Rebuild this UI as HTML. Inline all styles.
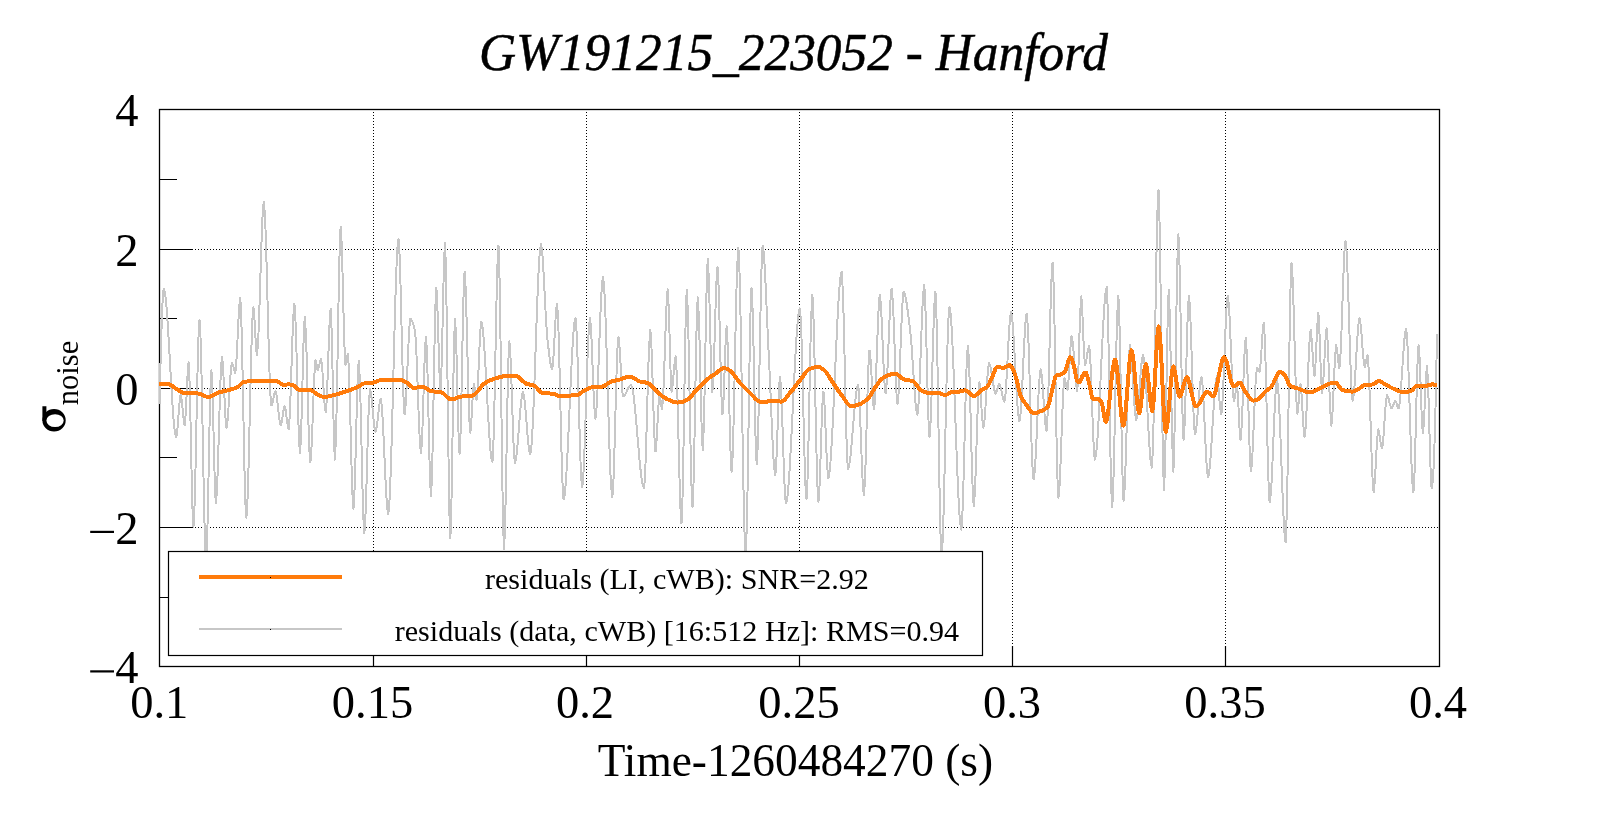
<!DOCTYPE html><html><head><meta charset="utf-8"><style>html,body{margin:0;padding:0;background:#fff;overflow:hidden;}svg{display:block;will-change:transform;}text{font-family:"Liberation Serif",serif;fill:#000;}</style></head><body><svg width="1599" height="813" viewBox="0 0 1599 813"><rect x="0" y="0" width="1599" height="813" fill="#fff"/><path d="M373.5 109V646 M586.5 109V646 M799.5 109V646 M1012.5 109V646 M1225.5 109V646 M159 249.5H1439 M159 388.5H1439 M159 527.5H1439" stroke="#000" stroke-width="1" stroke-dasharray="1 2" fill="none"/><path d="M373.5 666V646 M586.5 666V646 M799.5 666V646 M1012.5 666V646 M1225.5 666V646 M159 179.5H177 M159 318.5H177 M159 457.5H177 M159 597.5H177 M159 249.5H193 M159 388.5H193 M159 527.5H193" stroke="#000" stroke-width="1.2" fill="none"/><rect x="159.5" y="109.5" width="1280" height="557" fill="none" stroke="#000" stroke-width="1.3"/><path d="M159.8 404.0 160.2 376.0 161.0 344.9 162.0 313.6 163.0 293.8 163.8 288.5 165.0 292.4 166.0 300.9 167.0 313.1 168.0 328.1 169.0 345.0 170.0 362.8 171.0 380.7 172.0 397.6 173.0 412.6 174.0 424.8 175.0 433.3 176.2 437.2 177.0 433.7 178.0 422.3 179.0 408.4 180.0 397.6 180.7 394.8 181.0 395.3 182.0 402.4 183.0 413.5 184.0 422.8 184.7 425.3 185.0 424.2 186.0 408.9 187.0 385.2 188.0 366.0 188.6 362.0 189.0 365.2 190.0 395.9 191.0 444.5 192.0 493.1 193.0 523.8 193.4 527.0 194.0 521.4 195.0 491.7 196.0 446.1 197.0 395.6 198.0 351.1 199.0 323.6 199.5 319.7 200.0 323.6 201.0 351.3 202.0 397.0 203.0 450.8 204.0 502.5 205.0 542.2 206.1 560.0 207.0 545.5 208.0 504.4 209.0 451.9 210.0 403.2 211.0 373.6 211.4 370.5 212.0 377.0 213.0 408.9 214.0 452.3 215.0 489.5 215.9 503.3 217.0 490.7 218.0 463.1 219.0 428.2 220.0 393.6 221.0 367.2 222.0 356.7 223.0 365.7 224.0 386.4 225.0 409.4 226.0 425.5 226.5 427.9 227.0 426.4 228.0 416.0 229.0 399.6 230.0 382.2 231.0 368.2 232.0 362.5 233.0 364.9 234.0 369.7 235.2 373.0 236.0 367.9 237.0 350.9 238.0 329.0 239.0 309.1 240.2 298.3 241.0 308.6 242.0 344.4 243.0 394.6 244.0 447.8 245.0 492.2 246.0 516.4 246.3 517.9 247.0 512.2 248.0 487.4 249.0 449.6 250.0 405.8 251.0 363.0 252.0 328.4 253.0 308.9 253.4 307.0 254.0 310.7 255.0 327.9 256.0 347.1 256.9 355.0 258.0 344.6 259.0 321.0 260.0 290.0 261.0 256.9 262.0 227.6 263.0 207.4 263.8 201.7 265.0 215.3 266.0 243.0 267.0 279.6 268.0 319.6 269.0 357.3 270.0 387.2 271.0 403.8 271.4 405.4 272.0 404.6 273.0 400.5 274.0 395.4 275.0 391.6 275.5 391.0 276.0 391.9 277.0 397.9 278.0 407.2 279.0 416.7 280.0 423.6 280.7 425.3 281.0 425.0 282.0 420.6 283.0 413.6 284.0 407.8 284.7 406.2 285.0 406.6 286.0 412.2 287.0 420.8 288.0 427.7 288.6 429.2 289.0 427.5 290.0 410.8 291.0 382.6 292.0 350.4 293.0 322.2 294.0 305.5 294.4 303.8 295.0 308.6 296.0 333.4 297.0 370.4 298.0 409.5 299.0 440.4 300.0 453.0 301.0 437.8 302.0 401.8 303.0 360.0 304.0 327.1 304.8 317.0 306.0 334.7 307.0 368.1 308.0 407.3 309.0 441.8 310.0 461.1 310.3 462.3 311.0 457.4 312.0 437.5 313.0 409.7 314.0 382.3 315.0 363.6 315.6 360.0 316.0 361.0 317.0 367.8 317.7 370.5 318.0 370.2 319.0 366.6 320.0 361.5 321.0 359.0 322.0 365.2 323.0 379.6 324.0 396.2 325.0 408.8 325.7 412.0 326.0 410.9 327.0 394.7 328.0 366.6 329.0 336.5 330.0 314.3 330.7 308.8 331.0 311.0 332.0 343.2 333.0 395.0 334.0 441.9 334.9 459.7 336.0 437.8 337.0 390.3 338.0 331.3 339.0 275.3 340.0 236.4 340.7 227.0 341.0 228.5 342.0 251.9 343.0 291.7 344.0 333.0 345.0 360.8 345.5 365.0 346.0 363.8 347.0 357.5 347.9 354.0 349.0 370.1 350.0 404.4 351.0 446.0 352.0 483.6 353.0 506.3 353.4 508.6 354.0 503.5 355.0 477.4 356.0 439.0 357.0 399.4 358.0 369.9 358.8 361.2 360.0 382.2 361.0 421.7 362.0 468.0 363.0 508.7 364.0 531.5 364.3 533.0 365.0 527.0 366.0 502.2 367.0 466.7 368.0 429.7 369.0 400.7 370.0 389.0 371.0 392.7 372.0 401.9 373.0 413.4 374.0 424.1 375.0 430.9 375.5 431.9 376.0 431.0 377.0 425.2 378.0 416.3 379.0 407.1 380.0 400.4 380.7 398.8 381.0 399.3 382.0 408.0 383.0 424.6 384.0 446.0 385.0 468.9 386.0 490.0 387.0 506.0 388.2 513.9 389.0 509.2 390.0 491.6 391.0 463.9 392.0 429.2 393.0 390.3 394.0 350.4 395.0 312.4 396.0 279.5 397.0 254.5 398.0 240.6 398.5 238.7 399.0 242.0 400.0 265.3 401.0 303.0 402.0 345.7 403.0 384.3 404.0 409.4 404.6 414.2 405.0 412.9 406.0 400.2 407.0 378.8 408.0 354.3 409.0 332.9 410.0 320.2 410.4 318.9 411.0 319.2 412.0 320.6 413.0 323.2 414.0 326.8 415.0 331.0 416.0 343.2 417.0 366.8 418.0 395.7 419.0 423.8 420.0 445.1 421.0 453.6 422.0 441.4 423.0 412.4 424.0 377.8 425.0 348.8 426.0 336.6 427.0 353.2 428.0 392.8 429.0 440.0 430.0 479.6 431.0 496.2 432.0 476.8 433.0 429.6 434.0 371.6 435.0 319.4 436.0 289.9 436.3 288.0 437.0 295.6 438.0 324.6 439.0 360.3 440.0 386.0 440.5 390.0 441.0 385.0 442.0 351.9 443.0 304.3 444.0 261.6 445.0 243.0 446.0 270.6 447.0 337.4 448.0 419.7 449.0 493.6 450.0 535.5 450.3 538.2 451.0 525.1 452.0 472.9 453.0 404.3 454.0 344.5 455.0 319.0 456.0 335.3 457.0 373.2 458.0 416.1 459.0 447.3 459.6 453.6 460.0 450.3 461.0 418.8 462.0 368.2 463.0 315.7 464.0 279.0 464.6 271.8 465.0 274.1 466.0 296.9 467.0 335.1 468.0 377.7 469.0 413.7 470.2 432.7 471.0 426.8 472.0 409.2 473.0 391.0 473.9 383.7 475.0 390.0 476.0 398.4 476.5 400.0 477.0 397.6 478.0 381.9 479.0 358.6 480.0 336.1 481.0 322.9 481.3 322.0 482.0 323.6 483.0 330.8 484.0 342.8 485.0 358.2 486.0 376.0 487.0 394.7 488.0 413.3 489.0 430.5 490.0 445.0 491.0 455.7 492.0 461.3 492.4 461.8 493.0 455.9 494.0 425.0 495.0 377.5 496.0 324.8 497.0 278.4 498.0 249.7 498.5 245.6 499.0 252.7 500.0 301.0 501.0 376.6 502.0 457.7 503.0 522.4 504.0 548.8 505.0 529.4 506.0 482.5 507.0 424.7 508.0 372.7 509.0 343.3 509.3 341.4 510.0 346.6 511.0 368.2 512.0 398.9 513.0 430.5 514.0 454.6 514.9 463.0 516.0 459.4 517.0 451.2 518.0 439.8 519.0 426.8 520.0 414.0 521.0 402.8 522.0 395.0 523.0 392.0 524.0 395.3 525.0 403.8 526.0 415.5 527.0 428.4 528.0 440.5 529.0 449.8 530.2 454.4 531.0 451.1 532.0 438.8 533.0 419.4 534.0 394.7 535.0 366.8 536.0 337.7 537.0 309.4 538.0 283.9 539.0 263.2 540.0 249.4 541.0 244.3 542.0 249.3 543.0 262.4 544.0 280.6 545.0 300.7 546.0 319.7 547.0 334.6 547.4 338.7 548.0 344.0 549.0 352.8 550.0 360.6 551.0 366.4 552.2 369.2 553.0 364.4 554.0 348.5 555.0 328.4 556.0 311.1 557.0 303.8 558.0 315.9 559.0 346.8 560.0 388.3 561.0 432.2 562.0 470.4 563.0 494.7 563.6 499.3 564.0 498.7 565.0 492.4 566.0 480.2 567.0 463.4 568.0 443.3 569.0 421.2 570.0 398.4 571.0 376.2 572.0 355.8 573.0 338.6 574.0 325.9 575.0 318.9 575.5 318.0 576.0 320.8 577.0 340.3 578.0 372.5 579.0 410.4 580.0 446.9 581.0 474.9 582.1 487.4 583.0 481.3 584.0 462.7 585.0 435.7 586.0 404.3 587.0 372.7 588.0 345.1 589.0 325.5 590.0 318.0 591.0 327.4 592.0 350.2 593.0 378.3 594.0 403.5 595.3 418.7 596.0 415.4 597.0 401.0 598.0 378.7 599.0 352.0 600.0 324.8 601.0 300.7 602.0 283.5 603.0 277.0 604.0 284.1 605.0 303.2 606.0 331.0 607.0 364.2 608.0 399.5 609.0 433.7 610.0 463.5 611.0 485.5 612.3 497.2 613.0 491.4 614.0 466.8 615.0 430.8 616.0 391.8 617.0 358.4 618.0 338.9 618.4 336.9 619.0 339.7 620.0 353.5 621.0 372.5 622.0 389.3 623.0 396.5 624.0 396.0 625.0 394.7 626.0 392.9 627.0 390.8 628.0 388.6 629.0 386.8 630.0 385.5 631.0 385.0 632.0 386.7 633.0 391.6 634.0 398.9 635.0 408.3 636.0 419.0 637.0 430.6 638.0 442.4 639.0 454.0 640.0 464.7 641.0 474.1 642.0 481.4 643.0 486.3 644.0 488.0 645.0 477.3 646.0 450.3 647.0 414.6 648.0 377.8 649.0 347.4 650.3 330.0 651.0 336.0 652.0 360.5 653.0 394.3 654.0 427.0 655.0 448.3 655.5 451.5 656.0 449.1 657.0 433.6 658.0 412.9 659.0 397.4 659.5 395.0 660.0 396.5 661.0 404.1 662.0 409.0 663.0 399.6 664.0 376.1 665.0 346.1 666.0 316.7 667.0 295.5 667.8 289.3 669.0 313.6 670.0 352.7 671.0 385.1 671.6 392.0 672.0 391.0 673.0 382.0 674.0 369.0 675.0 358.7 675.6 356.5 676.0 358.7 677.0 380.2 678.0 416.9 679.0 459.0 680.0 496.6 681.0 520.1 681.5 523.5 682.0 517.7 683.0 478.0 684.0 416.7 685.0 352.5 686.0 304.4 686.8 290.0 688.0 314.8 689.0 362.0 690.0 418.4 691.0 469.8 692.0 502.3 692.5 507.0 693.0 501.8 694.0 466.1 695.0 411.0 696.0 353.4 697.0 310.2 697.8 297.3 699.0 319.5 700.0 360.0 701.0 404.9 702.0 439.5 702.8 450.0 704.0 422.3 705.0 371.6 706.0 315.4 707.0 272.1 707.8 259.0 709.0 282.3 710.0 323.3 711.0 365.1 712.3 392.0 713.0 385.8 714.0 360.7 715.0 325.9 716.0 292.2 717.0 270.2 717.5 267.0 718.0 271.1 719.0 298.9 720.0 340.8 721.0 382.6 722.0 410.4 722.5 414.5 723.0 411.0 724.0 388.8 725.0 358.0 726.0 332.8 726.7 326.3 728.0 351.6 729.0 392.4 730.0 435.4 731.0 465.8 731.6 471.8 732.0 469.5 733.0 446.5 734.0 406.1 735.0 357.1 736.0 308.6 737.0 269.6 738.3 247.5 739.0 255.3 740.0 288.9 741.0 340.7 742.0 401.8 743.0 462.8 744.0 514.6 745.0 548.2 745.7 556.0 747.0 521.6 748.0 463.0 749.0 394.5 750.0 332.5 751.0 293.6 751.5 288.0 752.0 292.4 753.0 322.4 754.0 368.7 755.0 417.2 756.0 453.6 756.8 464.4 758.0 440.2 759.0 393.8 760.0 338.1 761.0 286.4 762.0 252.1 762.6 245.6 763.0 246.5 764.0 255.6 765.0 272.2 766.0 293.6 767.0 316.9 768.0 339.5 768.7 353.3 770.0 380.7 771.0 404.9 772.0 429.0 773.0 450.4 774.0 466.4 775.3 475.0 776.0 469.1 777.0 445.8 778.0 415.1 779.0 388.4 780.0 377.0 781.0 386.7 782.0 410.7 783.0 441.8 784.0 472.4 785.0 495.4 785.9 503.3 787.0 499.9 788.0 491.5 789.0 478.9 790.0 462.9 791.0 444.5 792.0 424.5 793.0 403.7 794.0 383.0 795.0 363.2 796.0 345.3 797.0 329.9 798.0 318.1 799.0 310.6 799.9 308.3 801.0 322.4 802.0 354.0 803.0 395.1 804.0 437.8 805.0 474.2 806.0 496.2 806.5 499.3 807.0 495.0 808.0 465.4 809.0 418.2 810.0 365.9 811.0 321.2 812.3 295.0 813.0 302.6 814.0 334.3 815.0 380.8 816.0 431.1 817.0 474.3 818.0 499.4 818.4 502.0 819.0 497.6 820.0 475.3 821.0 443.5 822.0 412.7 823.0 393.6 823.4 391.6 824.0 395.3 825.0 414.1 826.0 440.3 827.0 464.7 828.2 478.2 829.0 476.1 830.0 468.2 831.0 455.2 832.0 438.3 833.0 418.5 834.0 396.6 835.0 373.9 836.0 351.1 837.0 329.4 838.0 309.8 839.0 293.3 840.0 280.8 841.0 273.4 841.7 271.8 843.0 293.5 844.0 331.4 845.0 377.4 846.0 421.9 847.0 455.6 848.0 468.9 849.0 466.6 850.0 460.3 851.0 451.1 852.0 439.8 853.0 427.6 854.0 415.3 855.0 403.9 856.0 394.4 857.0 387.8 858.1 385.0 859.0 392.1 860.0 412.8 861.0 440.2 862.0 467.6 863.0 488.3 863.9 495.4 865.0 480.8 866.0 449.6 867.0 411.4 868.0 376.2 869.0 353.9 869.5 350.6 870.0 352.6 871.0 365.8 872.0 384.9 873.0 402.0 874.0 409.4 875.0 400.4 876.0 378.0 877.0 349.2 878.0 321.2 879.0 300.9 879.8 295.0 881.0 305.9 882.0 326.8 883.0 351.9 884.0 375.1 885.0 390.6 885.6 393.5 886.0 392.2 887.0 379.4 888.0 357.5 889.0 332.0 890.0 308.4 891.0 292.3 891.7 288.5 893.0 303.3 894.0 328.6 895.0 358.1 896.0 384.8 897.0 401.6 897.5 404.0 898.0 401.9 899.0 387.0 900.0 362.9 901.0 335.6 902.0 311.0 903.0 294.9 903.6 291.9 904.0 292.1 905.0 294.6 906.0 299.3 907.0 305.6 908.0 313.1 909.0 321.2 910.2 330.8 911.0 338.6 912.0 351.8 913.0 367.1 914.0 382.8 915.0 397.1 916.0 408.1 917.0 414.1 917.4 414.7 918.0 411.9 919.0 396.6 920.0 372.4 921.0 344.3 922.0 317.2 923.0 296.0 924.2 285.3 925.0 294.6 926.0 325.9 927.0 367.6 928.0 407.4 929.0 433.2 929.5 437.0 930.0 434.1 931.0 413.6 932.0 380.9 933.0 344.4 934.0 312.5 935.0 293.8 935.4 291.9 936.0 299.1 937.0 336.9 938.0 394.9 939.0 459.3 940.0 515.9 941.0 551.0 941.5 556.0 942.0 553.1 943.0 532.5 944.0 497.0 945.0 452.7 946.0 405.7 947.0 362.0 948.0 327.7 949.0 308.9 949.4 307.0 950.0 308.6 951.0 318.0 952.0 334.3 953.0 355.8 954.0 381.1 955.0 408.6 956.0 436.6 957.0 463.6 958.0 487.9 959.0 508.0 960.0 522.4 961.3 529.8 962.0 524.0 963.0 499.5 964.0 462.7 965.0 421.3 966.0 383.0 967.0 355.4 967.9 346.1 969.0 360.7 970.0 392.5 971.0 432.1 972.0 470.4 973.0 498.0 973.8 506.0 975.0 490.9 976.0 462.5 977.0 429.2 978.0 399.9 979.3 382.4 980.0 386.1 981.0 400.1 982.0 416.6 983.3 427.9 984.0 425.3 985.0 414.5 986.0 398.9 987.0 382.6 988.0 369.4 989.1 363.3 990.0 364.8 991.0 369.4 992.0 375.7 993.0 382.5 994.0 388.5 995.0 392.6 995.7 393.5 997.0 390.4 998.0 386.4 999.2 383.7 1000.0 384.8 1001.0 388.6 1002.0 393.6 1003.0 398.3 1004.0 401.2 1004.4 401.5 1005.0 399.4 1006.0 388.3 1007.0 370.9 1008.0 350.8 1009.0 331.9 1010.0 317.8 1011.0 312.3 1012.0 316.5 1013.0 327.6 1014.0 343.4 1015.0 362.0 1016.0 381.1 1017.0 398.6 1018.0 412.3 1019.0 420.2 1019.5 421.3 1020.0 419.8 1021.0 409.2 1022.0 391.4 1023.0 369.7 1024.0 347.7 1025.0 328.8 1026.0 316.5 1026.7 313.6 1028.0 329.0 1029.0 356.6 1030.0 391.1 1031.0 426.6 1032.0 456.9 1033.0 476.0 1033.6 479.5 1034.0 478.5 1035.0 468.3 1036.0 450.2 1037.0 427.8 1038.0 404.9 1039.0 385.1 1040.0 372.2 1040.7 369.2 1042.0 377.1 1043.0 390.5 1044.0 406.2 1045.0 420.4 1046.0 429.3 1046.5 430.6 1047.0 427.4 1048.0 405.2 1049.0 369.1 1050.0 328.3 1051.0 291.4 1052.0 267.4 1052.6 262.8 1053.0 266.0 1054.0 297.3 1055.0 350.3 1056.0 410.5 1057.0 463.5 1058.0 494.8 1058.4 498.0 1059.0 494.8 1060.0 477.6 1061.0 451.3 1062.0 422.2 1063.0 396.5 1064.0 380.7 1064.5 378.4 1065.0 379.3 1066.0 384.2 1067.0 389.1 1067.5 390.0 1068.0 387.8 1069.0 373.6 1070.0 354.3 1071.0 339.2 1071.6 336.1 1072.0 336.9 1073.0 344.7 1074.0 357.7 1075.0 372.2 1076.0 384.5 1077.2 391.0 1078.0 381.2 1079.0 350.8 1080.0 316.8 1081.2 296.4 1082.0 304.2 1083.0 328.0 1084.0 353.2 1085.0 365.0 1086.0 362.2 1087.0 355.9 1088.0 349.5 1089.1 346.1 1090.0 353.5 1091.0 374.7 1092.0 402.9 1093.0 431.1 1094.0 452.3 1094.9 459.7 1096.0 455.5 1097.0 445.5 1098.0 430.7 1099.0 412.4 1100.0 391.8 1101.0 370.1 1102.0 348.7 1103.0 328.7 1104.0 311.3 1105.0 297.8 1106.0 289.3 1106.8 287.1 1108.0 315.9 1109.0 369.4 1110.0 431.0 1111.0 482.8 1112.1 507.3 1113.0 495.2 1114.0 459.9 1115.0 411.8 1116.0 361.6 1117.0 319.9 1118.3 295.9 1119.0 305.7 1120.0 345.6 1121.0 401.2 1122.0 456.0 1123.0 493.4 1123.6 500.7 1124.0 499.0 1125.0 481.6 1126.0 451.4 1127.0 415.6 1128.0 381.1 1129.0 355.2 1130.0 345.0 1131.0 350.2 1132.0 363.4 1133.0 380.7 1134.0 398.4 1135.0 412.7 1136.2 420.0 1137.0 417.5 1138.0 408.7 1139.0 396.0 1140.0 381.8 1141.0 368.6 1142.0 358.8 1143.0 355.0 1144.0 358.9 1145.0 369.5 1146.0 384.8 1147.0 402.8 1148.0 421.7 1149.0 439.5 1150.0 454.4 1151.0 464.4 1151.9 467.6 1153.0 447.0 1154.0 401.2 1155.0 341.4 1156.0 279.3 1157.0 226.5 1158.0 194.5 1158.5 190.0 1159.0 197.0 1160.0 244.8 1161.0 319.6 1162.0 399.8 1163.0 463.9 1164.0 490.0 1165.0 467.6 1166.0 414.7 1167.0 353.1 1168.0 304.6 1168.8 289.8 1170.0 321.7 1171.0 377.7 1172.0 434.8 1173.3 471.6 1174.0 458.9 1175.0 407.9 1176.0 338.7 1177.0 274.0 1178.3 234.2 1179.0 244.0 1180.0 284.1 1181.0 339.9 1182.0 394.9 1183.0 432.5 1183.6 439.8 1184.0 437.5 1185.0 415.0 1186.0 378.0 1187.0 338.1 1188.0 306.9 1188.9 295.9 1190.0 307.8 1191.0 333.9 1192.0 366.9 1193.0 399.6 1194.0 424.5 1195.0 434.5 1196.0 430.8 1197.0 421.5 1198.0 409.1 1199.0 396.0 1200.0 384.8 1201.0 378.0 1201.5 377.0 1202.0 378.7 1203.0 390.6 1204.0 410.2 1205.0 433.0 1206.0 454.8 1207.0 471.1 1208.0 477.5 1209.0 474.0 1210.0 464.7 1211.0 451.2 1212.0 435.2 1213.0 418.3 1214.0 402.3 1215.0 388.8 1216.0 379.5 1217.0 376.0 1218.0 381.5 1219.0 393.9 1220.0 406.9 1221.2 414.5 1222.0 409.7 1223.0 392.8 1224.0 368.4 1225.0 341.6 1226.0 317.2 1227.0 300.3 1227.8 295.5 1229.0 305.8 1230.0 325.9 1231.0 350.8 1232.0 375.1 1233.0 393.7 1234.0 401.0 1235.0 396.9 1236.0 389.1 1237.0 385.0 1238.0 395.9 1239.0 418.4 1240.0 437.0 1240.5 440.0 1241.0 437.4 1242.0 420.0 1243.0 393.1 1244.0 365.0 1245.0 343.9 1245.8 337.6 1247.0 356.4 1248.0 390.9 1249.0 429.6 1250.0 460.5 1250.9 471.5 1252.0 462.6 1253.0 443.1 1254.0 418.5 1255.0 394.1 1256.0 375.4 1257.0 368.0 1258.0 369.4 1259.0 371.6 1259.5 372.0 1260.0 370.2 1261.0 358.2 1262.0 341.4 1263.0 327.2 1263.8 322.7 1265.0 342.0 1266.0 379.1 1267.0 424.0 1268.0 466.3 1269.0 495.5 1269.7 502.5 1271.0 492.2 1272.0 473.7 1273.0 450.0 1274.0 425.1 1275.0 402.5 1276.0 386.3 1277.0 380.0 1278.0 385.9 1279.0 401.8 1280.0 424.6 1281.0 451.5 1282.0 479.3 1283.0 505.3 1284.0 526.3 1285.0 539.5 1285.7 542.5 1287.0 506.7 1288.0 445.6 1289.0 374.3 1290.0 309.7 1291.0 269.3 1291.5 263.4 1292.0 266.5 1293.0 287.6 1294.0 321.5 1295.0 359.3 1296.0 392.3 1297.0 411.7 1297.4 413.7 1298.0 410.6 1299.0 397.4 1300.0 385.4 1300.4 384.0 1301.0 386.9 1302.0 401.2 1303.0 419.8 1304.0 434.1 1304.6 437.0 1305.0 435.7 1306.0 422.7 1307.0 400.3 1308.0 374.3 1309.0 350.3 1310.0 333.9 1310.7 330.0 1312.0 342.5 1313.0 360.2 1314.0 373.8 1314.5 376.0 1315.0 373.0 1316.0 354.3 1317.0 330.1 1318.3 313.0 1319.0 320.1 1320.0 346.7 1321.0 376.8 1322.1 393.0 1323.0 386.5 1324.0 369.0 1325.0 348.3 1326.0 332.3 1326.7 328.3 1328.0 347.2 1329.0 376.9 1330.0 406.7 1331.3 425.6 1332.0 421.1 1333.0 403.3 1334.0 379.3 1335.0 357.3 1336.2 345.2 1337.0 349.0 1338.0 359.3 1339.3 368.0 1340.0 363.5 1341.0 344.6 1342.0 316.7 1343.0 286.3 1344.0 259.7 1345.0 243.3 1345.5 241.0 1346.0 243.2 1347.0 258.9 1348.0 285.4 1349.0 317.6 1350.0 350.2 1351.0 378.3 1352.0 396.6 1352.7 400.8 1354.0 392.9 1355.0 378.9 1356.0 361.4 1357.0 343.6 1358.0 328.6 1359.0 319.6 1359.5 318.3 1360.0 319.5 1361.0 327.8 1362.0 340.6 1363.0 354.0 1364.0 364.0 1364.8 367.0 1366.0 362.0 1367.0 356.1 1367.5 355.0 1368.0 357.5 1369.0 375.2 1370.0 404.0 1371.0 436.9 1372.0 467.1 1373.0 487.5 1373.7 492.4 1375.0 479.7 1376.0 459.9 1377.0 440.5 1378.2 429.4 1379.0 431.6 1380.0 438.2 1381.0 445.2 1382.0 448.5 1383.0 442.9 1384.0 429.7 1385.0 413.8 1386.0 400.6 1387.0 395.0 1388.0 396.6 1389.0 400.4 1390.0 404.7 1391.0 407.8 1391.6 408.4 1392.0 408.2 1393.0 406.1 1394.0 403.1 1395.0 401.0 1395.4 400.8 1396.0 401.5 1397.0 404.8 1398.0 407.9 1398.5 408.4 1399.0 407.4 1400.0 400.3 1401.0 388.3 1402.0 373.4 1403.0 357.9 1404.0 343.8 1405.0 333.5 1406.1 329.0 1407.0 335.8 1408.0 356.4 1409.0 385.9 1410.0 419.1 1411.0 451.0 1412.0 476.7 1413.0 491.0 1413.4 492.4 1414.0 487.0 1415.0 459.1 1416.0 418.7 1417.0 378.3 1418.0 350.4 1418.6 345.0 1419.0 347.1 1420.0 367.0 1421.0 396.8 1422.0 423.2 1422.9 433.2 1424.0 421.3 1425.0 398.5 1426.0 376.3 1427.0 366.3 1428.0 380.5 1429.0 413.9 1430.0 452.1 1431.0 481.2 1431.7 488.5 1433.0 479.2 1434.0 459.4 1435.0 428.7 1436.0 386.9 1437.0 334.0" stroke="#c7c7c7" stroke-width="2" fill="none" stroke-linejoin="round" shape-rendering="crispEdges"/><path d="M159.0 383.9 160.0 383.9 161.0 383.9 162.0 383.9 163.0 384.0 164.0 384.0 165.0 384.1 166.0 384.1 167.0 384.2 168.0 384.3 169.0 384.4 170.0 384.6 171.0 385.1 172.0 385.8 173.0 386.5 174.0 387.3 175.2 388.1 176.0 388.5 177.0 389.2 178.0 389.9 179.0 390.5 180.0 391.2 181.0 391.7 182.0 392.2 183.0 392.6 184.0 392.8 185.0 392.8 186.0 392.9 187.0 393.0 188.0 393.0 189.0 393.1 190.0 393.1 191.0 393.1 192.0 393.2 193.0 393.2 194.0 393.3 195.0 393.3 196.0 393.4 197.0 393.4 197.8 393.5 199.0 393.7 200.0 394.0 201.0 394.4 202.0 394.8 203.0 395.3 204.0 395.7 205.0 396.2 206.0 396.5 207.0 396.8 208.0 396.9 208.4 396.9 209.0 396.9 210.0 396.6 211.0 396.3 212.0 395.8 213.0 395.2 214.0 394.6 215.0 394.1 216.0 393.5 217.0 393.0 217.8 392.8 219.0 392.4 220.0 392.1 221.0 391.9 222.0 391.6 223.0 391.4 224.0 391.2 225.0 391.0 226.0 390.8 227.0 390.5 228.0 390.3 229.0 390.0 230.0 389.7 231.0 389.4 232.0 389.1 233.0 388.8 234.0 388.5 235.0 388.1 236.0 387.7 237.0 387.3 237.8 386.9 239.0 386.0 240.0 385.0 241.0 384.0 242.0 383.0 243.0 382.3 244.0 381.9 245.0 381.8 246.0 381.6 247.0 381.5 248.0 381.4 249.0 381.3 250.0 381.2 251.0 381.2 252.0 381.1 253.0 381.1 254.0 381.0 255.2 381.0 256.0 381.0 257.0 380.9 258.0 380.9 259.0 380.9 260.0 380.8 261.0 380.8 262.0 380.8 263.0 380.8 264.0 380.7 265.0 380.7 266.0 380.7 267.0 380.7 268.0 380.7 269.0 380.6 270.0 380.6 271.0 380.6 272.0 380.6 273.0 380.6 274.0 380.6 275.2 380.6 276.0 380.7 277.0 381.1 278.0 381.6 279.0 382.3 280.0 383.1 281.0 383.8 282.0 384.4 283.0 384.8 284.0 385.0 285.0 384.9 286.0 384.7 287.0 384.5 287.8 384.4 289.0 384.4 290.0 384.5 291.0 384.7 292.0 384.9 292.8 385.0 294.0 385.6 295.0 386.6 296.0 387.6 297.0 388.6 298.0 389.4 299.0 389.8 300.0 389.8 301.0 389.8 302.0 389.8 303.0 389.9 304.0 389.9 305.0 389.9 306.0 389.9 307.0 389.9 308.0 389.9 309.0 390.0 310.2 390.0 311.0 390.1 312.0 390.6 313.0 391.2 314.0 392.0 315.0 392.8 316.0 393.5 316.5 393.8 317.0 394.0 318.0 394.6 319.0 395.1 320.0 395.7 321.0 396.1 322.0 396.5 323.0 396.8 324.0 396.9 325.0 396.9 326.0 396.8 327.0 396.6 328.0 396.5 329.0 396.2 330.0 396.0 331.0 395.7 332.0 395.5 333.0 395.2 334.0 395.0 335.0 394.8 336.0 394.5 337.0 394.2 338.0 394.0 339.0 393.7 340.0 393.4 341.0 393.1 342.0 392.8 343.0 392.4 344.0 392.1 345.0 391.8 346.0 391.4 346.5 391.2 347.0 391.1 348.0 390.7 349.0 390.4 350.0 390.0 351.0 389.6 352.0 389.2 353.0 388.9 354.0 388.5 355.0 388.0 356.0 387.6 357.0 387.2 358.0 386.7 359.0 386.2 360.0 385.7 361.0 385.0 362.0 384.3 363.0 383.8 364.0 383.5 365.0 383.4 366.0 383.3 367.0 383.2 368.0 383.2 369.0 383.1 370.0 383.0 371.0 383.0 371.5 382.9 372.0 382.8 373.0 382.6 374.0 382.3 375.0 382.0 376.0 381.6 377.0 381.2 378.0 380.8 379.0 380.5 380.0 380.2 381.0 379.9 382.0 379.8 382.8 379.8 384.0 379.8 385.0 379.8 386.0 379.8 387.0 379.8 388.0 379.8 389.0 379.8 390.0 379.8 391.0 379.8 392.0 379.8 393.0 379.8 394.0 379.8 395.0 379.8 396.0 379.8 397.0 379.8 398.0 379.8 399.0 379.8 400.0 379.8 401.0 380.0 402.0 380.4 403.0 380.8 404.0 381.3 405.0 381.8 406.0 382.3 406.5 382.5 407.0 382.8 408.0 383.5 409.0 384.4 410.0 385.3 411.0 386.2 412.0 387.0 413.0 387.6 414.0 387.8 415.0 387.7 416.0 387.6 417.0 387.5 418.0 387.4 419.0 387.2 420.0 387.1 421.0 387.0 422.0 386.9 422.8 386.9 424.0 387.1 425.0 387.6 426.0 388.2 427.0 388.8 428.0 389.6 429.0 390.2 430.0 390.8 431.0 391.2 431.5 391.2 432.0 391.3 433.0 391.4 434.0 391.5 435.0 391.5 436.0 391.6 437.0 391.6 438.0 391.7 439.0 391.8 440.2 391.9 441.0 392.1 442.0 392.5 443.0 393.2 444.0 394.1 445.0 395.0 446.0 396.0 447.0 396.9 448.0 397.8 449.0 398.5 450.0 399.1 451.0 399.4 451.5 399.4 452.0 399.4 453.0 399.2 454.0 399.0 455.0 398.6 456.0 398.2 457.0 397.8 458.0 397.4 459.0 397.0 460.0 396.7 461.0 396.5 461.5 396.5 462.0 396.5 463.0 396.4 464.0 396.4 465.0 396.4 466.0 396.4 467.0 396.4 468.0 396.3 469.0 396.3 470.2 396.2 471.0 396.1 472.0 395.8 473.0 395.2 474.0 394.6 475.2 393.8 476.0 393.2 477.0 392.1 478.0 390.9 479.0 389.6 480.0 388.2 481.0 386.9 482.0 385.6 483.0 384.6 484.0 383.8 485.0 383.1 486.0 382.5 487.0 381.9 488.0 381.4 489.0 380.9 490.0 380.4 491.0 380.0 492.0 379.6 493.0 379.2 494.0 378.9 495.0 378.5 496.0 378.2 496.5 378.1 497.0 378.0 498.0 377.7 499.0 377.4 500.0 377.1 501.0 376.9 502.0 376.6 503.0 376.4 504.0 376.1 505.0 376.0 506.0 375.8 507.0 375.7 508.0 375.6 509.0 375.6 510.0 375.6 511.0 375.7 512.0 375.7 513.0 375.8 514.0 375.9 515.0 376.0 516.0 376.2 516.5 376.2 517.0 376.4 518.0 376.8 519.0 377.5 520.0 378.3 521.0 379.2 522.0 380.2 523.0 381.2 524.0 382.1 525.0 382.9 526.0 383.5 526.5 383.8 527.0 383.9 528.0 384.2 529.0 384.4 530.0 384.6 531.0 384.8 532.0 385.0 533.0 385.3 534.0 385.6 535.0 386.2 536.0 387.0 537.0 388.1 538.0 389.2 539.0 390.4 540.0 391.4 541.0 392.3 542.0 392.9 542.8 393.1 544.0 393.2 545.0 393.3 546.0 393.3 547.0 393.4 548.0 393.4 549.0 393.4 550.0 393.5 551.0 393.5 552.0 393.6 553.0 393.6 554.0 393.8 555.0 394.1 556.0 394.7 557.0 395.4 558.0 396.0 559.0 396.2 560.0 396.2 561.0 396.2 562.0 396.1 563.0 395.9 564.0 395.8 565.0 395.7 566.0 395.6 566.5 395.6 567.0 395.6 568.0 395.5 569.0 395.5 570.0 395.5 571.0 395.5 572.0 395.4 573.0 395.4 574.0 395.4 575.0 395.3 576.0 395.3 576.5 395.2 577.0 395.2 578.0 394.8 579.0 394.2 580.0 393.5 581.0 392.7 582.0 391.9 583.0 391.2 584.0 390.6 585.0 390.1 586.0 389.6 587.0 389.2 588.0 388.7 589.0 388.3 590.0 387.9 591.0 387.5 592.0 387.2 593.0 387.0 594.0 386.9 595.0 386.8 596.0 386.8 597.0 386.7 598.0 386.7 599.0 386.7 600.0 386.7 601.0 386.6 602.0 386.6 602.8 386.5 604.0 386.1 605.0 385.6 606.0 384.8 607.0 384.0 608.0 383.2 609.0 382.5 610.2 381.9 611.0 381.6 612.0 381.4 613.0 381.1 614.0 380.9 615.0 380.6 616.0 380.4 617.0 380.2 618.0 380.0 619.0 379.8 620.0 379.5 621.0 379.1 622.0 378.7 623.0 378.4 624.0 378.0 625.0 377.7 626.0 377.3 627.0 377.1 628.0 377.0 629.0 376.9 630.0 377.0 631.0 377.2 632.0 377.4 633.0 377.8 634.0 378.1 635.0 378.6 636.0 379.3 637.0 380.1 638.0 380.8 639.0 381.2 640.0 381.5 641.0 381.8 642.0 381.9 643.0 382.1 644.0 382.3 645.0 382.4 646.0 382.6 647.0 382.9 647.8 383.1 649.0 383.7 650.0 384.5 651.0 385.4 652.0 386.5 653.0 387.6 654.0 388.7 655.0 389.8 656.0 390.8 656.5 391.2 657.0 391.7 658.0 392.5 659.0 393.4 660.0 394.2 661.0 395.1 662.0 395.9 663.0 396.6 664.0 397.3 665.0 397.9 666.0 398.5 666.5 398.8 667.0 399.0 668.0 399.5 669.0 399.9 670.0 400.4 671.0 400.8 672.0 401.2 673.0 401.6 674.0 401.9 675.0 402.2 676.0 402.4 677.0 402.5 677.8 402.5 679.0 402.4 680.0 402.3 681.0 402.1 682.0 401.9 683.0 401.6 684.0 401.2 685.0 400.8 686.0 400.5 686.5 400.2 687.0 400.0 688.0 399.4 689.0 398.6 690.0 397.6 691.0 396.5 692.0 395.3 693.0 394.1 694.0 392.8 695.0 391.6 696.0 390.5 696.5 390.0 697.0 389.5 698.0 388.5 699.0 387.4 700.0 386.3 701.0 385.3 702.0 384.3 703.0 383.2 704.0 382.3 705.0 381.3 706.0 380.4 706.5 380.0 707.0 379.6 708.0 378.8 709.0 378.0 710.0 377.3 711.0 376.6 712.0 375.9 713.0 375.3 714.0 374.6 715.2 373.8 716.0 373.2 717.0 372.4 718.0 371.5 719.0 370.7 720.0 369.9 721.0 369.2 722.0 368.6 723.0 368.2 724.0 368.1 725.0 368.2 726.0 368.5 727.0 368.9 728.0 369.5 729.0 370.0 730.0 370.7 731.0 371.5 732.0 372.5 733.0 373.7 734.0 375.0 735.0 376.3 736.0 377.7 737.0 379.0 738.0 380.4 739.0 381.7 740.2 383.1 741.0 383.9 742.0 384.9 743.0 386.0 744.0 387.0 745.0 388.0 746.0 389.0 747.0 390.0 748.0 390.9 749.0 391.9 750.2 393.1 751.0 393.9 752.0 394.9 753.0 396.0 754.0 397.1 755.0 398.2 756.0 399.2 757.0 400.1 758.0 400.8 759.0 401.2 760.0 401.6 761.0 402.0 762.0 402.2 763.0 402.4 764.0 402.5 765.0 402.4 766.0 402.0 767.0 401.6 768.0 401.2 769.0 400.8 770.2 400.6 771.0 400.6 772.0 400.7 773.0 400.7 774.0 400.8 775.0 400.9 776.0 401.1 777.0 401.2 778.0 401.3 779.0 401.4 780.0 401.5 781.0 401.5 781.5 401.5 782.0 401.4 783.0 401.0 784.0 400.3 785.0 399.3 786.0 398.1 787.0 396.7 788.0 395.4 789.0 394.0 790.2 392.5 791.0 391.6 792.0 390.5 793.0 389.2 794.0 388.0 795.0 386.7 796.0 385.4 797.0 384.1 798.0 382.8 799.0 381.6 800.2 380.0 801.0 379.0 802.0 377.6 803.0 376.2 804.0 374.7 805.0 373.3 806.0 372.1 807.0 370.9 808.0 370.0 809.0 369.4 810.0 368.9 811.0 368.5 812.0 368.1 813.0 367.8 814.0 367.5 815.0 367.2 816.0 367.0 817.0 366.9 817.8 366.9 819.0 367.1 820.0 367.4 821.0 368.0 822.0 368.6 823.0 369.3 824.0 370.0 825.0 370.9 826.0 372.0 827.0 373.4 828.0 374.9 829.0 376.5 830.0 378.1 831.0 379.8 832.0 381.4 832.8 382.5 834.0 384.3 835.0 385.8 836.0 387.3 837.0 388.7 838.0 390.2 839.0 391.6 840.0 393.0 841.0 394.4 841.5 395.0 842.0 395.7 843.0 397.1 844.0 398.5 845.0 400.0 846.0 401.5 847.0 402.9 848.0 404.1 849.0 405.1 850.0 405.8 851.0 406.2 851.5 406.2 852.0 406.2 853.0 406.1 854.0 406.0 855.0 405.7 856.0 405.4 857.0 405.1 858.0 404.8 859.0 404.4 860.0 404.0 861.0 403.6 862.0 403.0 863.0 402.4 864.0 401.8 865.0 401.0 866.0 400.3 867.0 399.4 867.8 398.8 869.0 397.4 870.0 396.0 871.0 394.4 872.0 392.7 873.0 391.0 874.0 389.4 875.2 387.5 876.0 386.4 877.0 385.0 878.0 383.5 879.0 382.1 880.0 380.7 881.0 379.6 882.0 378.6 882.8 378.1 884.0 377.4 885.0 376.9 886.0 376.4 887.0 375.9 888.0 375.4 889.0 375.0 890.0 374.7 891.0 374.4 892.0 374.1 893.0 373.9 894.0 373.8 895.2 373.8 896.0 373.8 897.0 374.2 898.0 374.9 899.0 375.7 900.0 376.6 901.0 377.5 902.0 378.3 903.0 378.9 904.0 379.4 905.0 379.7 906.0 379.9 907.0 380.1 908.0 380.2 909.0 380.4 910.0 380.5 911.0 380.8 912.0 381.0 912.8 381.2 914.0 382.0 915.0 383.0 916.0 384.3 917.0 385.6 918.0 387.0 919.0 388.4 920.0 389.5 921.0 390.3 921.5 390.6 922.0 390.8 923.0 391.3 924.0 391.7 925.0 392.0 926.0 392.4 927.0 392.7 928.0 392.9 929.0 393.0 930.2 393.1 931.0 393.1 932.0 393.1 933.0 393.0 934.0 392.9 935.0 392.9 936.0 392.8 937.0 392.8 937.8 392.8 939.0 392.9 940.0 393.2 941.0 393.7 942.0 394.1 943.0 394.5 944.0 394.8 945.2 395.0 946.0 394.9 947.0 394.5 948.0 394.0 949.0 393.4 950.0 392.8 951.0 392.4 951.5 392.2 952.0 392.2 953.0 392.1 954.0 392.0 955.0 391.9 956.0 391.9 957.0 391.8 958.0 391.7 959.0 391.6 960.0 391.4 961.0 391.2 962.0 390.9 963.0 390.7 964.0 390.5 965.1 390.4 966.0 390.6 967.0 391.1 968.0 391.8 969.0 392.7 970.0 393.7 971.0 394.6 972.0 395.3 973.0 395.8 973.8 395.9 975.0 395.6 976.0 395.0 977.0 394.2 978.0 393.2 979.0 392.2 980.0 391.3 981.1 390.4 982.0 389.9 983.0 389.3 984.0 388.9 985.0 388.3 986.0 387.7 987.3 386.7 988.0 385.8 989.0 384.1 990.0 381.9 991.0 379.5 992.2 376.9 993.0 375.1 994.0 372.4 995.0 369.9 996.0 367.9 997.1 367.0 998.0 367.0 999.0 367.2 1000.0 367.3 1001.0 367.5 1002.0 367.6 1003.3 367.7 1004.0 367.6 1005.0 367.2 1006.0 366.7 1007.0 366.1 1008.0 365.5 1009.0 365.2 1009.4 365.2 1010.0 365.4 1011.0 366.3 1012.0 367.7 1013.1 369.5 1014.0 371.4 1015.0 374.4 1016.0 377.8 1016.8 380.6 1018.0 385.5 1019.0 390.0 1020.0 393.9 1020.5 395.3 1021.0 396.4 1022.0 398.5 1023.0 400.2 1024.0 401.7 1025.0 403.1 1026.0 404.4 1026.6 405.2 1027.0 405.7 1028.0 407.2 1029.0 408.6 1030.0 410.0 1031.0 411.3 1032.0 412.3 1033.0 413.0 1034.0 413.2 1035.0 413.1 1036.0 412.9 1037.0 412.6 1038.0 412.2 1039.0 411.8 1040.2 411.3 1041.0 411.0 1042.0 410.6 1043.0 410.2 1044.0 409.7 1045.0 409.1 1046.0 408.4 1047.0 407.5 1047.5 407.0 1048.0 406.2 1049.0 403.4 1050.0 399.5 1051.0 395.0 1052.0 390.7 1052.4 389.2 1053.0 386.8 1054.0 382.1 1055.0 378.0 1056.1 375.7 1057.0 375.3 1058.0 375.1 1059.0 374.9 1060.0 374.7 1061.0 374.4 1062.0 374.0 1063.0 373.4 1064.0 372.6 1064.7 372.0 1066.0 369.2 1067.0 365.8 1068.0 362.1 1069.0 359.0 1070.3 357.2 1071.0 357.7 1072.0 359.6 1073.0 362.6 1074.0 365.8 1075.0 370.8 1076.0 376.9 1077.0 380.6 1078.0 381.7 1079.0 382.3 1079.5 382.4 1080.0 382.0 1081.0 379.4 1082.0 376.9 1083.0 375.3 1084.0 373.8 1085.0 372.8 1085.6 372.6 1086.0 372.8 1087.0 375.2 1088.0 379.1 1089.3 384.3 1090.0 387.3 1091.0 392.5 1092.0 397.1 1093.0 399.0 1094.0 399.0 1095.0 399.0 1096.0 399.0 1097.0 399.0 1097.9 399.0 1099.0 399.4 1100.0 400.4 1101.0 401.8 1101.6 402.7 1102.0 403.7 1103.0 408.7 1104.0 415.0 1105.0 420.2 1105.8 421.8 1107.0 419.0 1108.0 413.0 1109.0 404.8 1110.0 395.2 1111.0 385.2 1112.0 375.7 1113.0 367.7 1114.0 362.0 1115.1 359.6 1116.0 361.8 1117.0 368.4 1118.0 378.1 1119.0 389.6 1120.0 401.4 1121.0 412.2 1122.0 420.6 1123.0 425.2 1123.4 425.6 1124.0 424.4 1125.0 417.9 1126.0 407.3 1127.0 394.2 1128.0 380.3 1129.0 367.4 1130.0 357.1 1131.0 351.1 1131.5 350.3 1132.0 351.1 1133.0 356.6 1134.0 365.9 1135.0 377.6 1136.0 389.8 1137.0 400.9 1138.0 409.3 1139.2 413.4 1140.0 411.4 1141.0 404.4 1142.0 394.3 1143.0 383.3 1144.0 373.2 1145.0 366.2 1145.8 364.2 1147.0 368.4 1148.0 376.7 1149.0 387.1 1150.0 397.6 1151.0 406.1 1152.3 411.0 1153.0 408.2 1154.0 396.3 1155.0 378.6 1156.0 358.9 1157.0 341.2 1158.0 329.3 1158.7 326.5 1160.0 335.8 1161.0 352.5 1162.0 373.6 1163.0 395.6 1164.0 414.9 1165.0 428.1 1165.8 431.8 1167.0 427.3 1168.0 418.2 1169.0 406.3 1170.0 393.3 1171.0 381.2 1172.0 371.7 1173.3 366.5 1174.0 367.5 1175.0 371.9 1176.0 378.3 1177.0 385.4 1178.0 391.7 1179.0 395.7 1179.6 396.5 1180.0 396.3 1181.0 394.6 1182.0 391.5 1183.0 387.7 1184.0 383.7 1185.0 380.2 1186.0 377.9 1186.8 377.2 1188.0 378.6 1189.0 381.4 1190.0 385.3 1191.0 389.9 1192.0 394.6 1193.0 399.1 1194.0 402.9 1195.0 405.4 1196.0 406.4 1197.0 406.1 1198.0 405.2 1199.0 404.0 1200.0 402.4 1201.0 400.6 1202.0 398.7 1203.0 396.9 1204.0 395.1 1205.0 393.7 1206.0 392.6 1207.0 391.9 1207.6 391.8 1208.0 391.9 1209.0 392.6 1210.0 393.8 1211.0 395.0 1212.0 396.1 1213.0 396.5 1214.0 395.6 1215.0 393.2 1216.0 389.6 1217.0 385.1 1218.0 380.0 1219.0 374.8 1220.0 369.7 1221.0 365.1 1222.0 361.2 1223.0 358.6 1224.2 357.3 1225.0 357.9 1226.0 360.0 1227.0 363.4 1228.0 367.6 1229.0 372.1 1230.0 376.7 1231.0 380.8 1232.0 384.0 1233.0 386.0 1233.7 386.5 1235.0 386.0 1236.0 385.3 1237.0 384.3 1238.0 383.4 1239.0 382.8 1239.8 382.6 1241.0 383.5 1242.0 385.2 1243.0 387.4 1244.0 389.5 1245.0 391.2 1246.0 392.6 1247.0 394.1 1248.0 395.5 1249.0 396.9 1250.0 398.1 1251.0 399.2 1252.0 400.0 1253.0 400.5 1253.8 400.6 1255.0 400.4 1256.0 400.1 1257.0 399.7 1258.0 399.2 1258.8 398.8 1260.0 397.8 1261.0 396.7 1262.0 395.5 1263.0 394.2 1264.0 392.9 1265.0 391.9 1266.0 391.0 1267.0 390.3 1268.0 389.6 1269.0 388.9 1270.0 388.1 1271.2 386.9 1272.0 385.9 1273.0 384.1 1274.0 382.0 1275.0 379.7 1276.0 377.4 1277.0 375.3 1278.0 373.5 1279.0 372.3 1280.0 371.9 1281.0 372.1 1282.0 372.7 1283.0 373.5 1284.0 374.5 1285.0 375.6 1286.0 377.2 1287.0 379.6 1288.0 382.1 1289.0 384.3 1290.0 385.6 1291.0 386.2 1292.0 386.7 1293.0 387.1 1294.0 387.4 1295.0 387.7 1296.0 387.9 1297.0 388.2 1298.0 388.5 1298.8 388.8 1300.0 389.2 1301.0 389.6 1302.0 390.1 1303.0 390.5 1304.0 391.0 1305.0 391.4 1306.0 391.7 1307.0 392.0 1308.0 392.3 1309.0 392.4 1310.0 392.5 1311.0 392.4 1312.0 392.2 1313.0 391.9 1314.0 391.4 1315.0 390.9 1316.0 390.3 1317.0 389.8 1318.0 389.2 1319.0 388.6 1320.0 388.1 1321.2 387.5 1322.0 387.2 1323.0 386.7 1324.0 386.3 1325.0 385.8 1326.0 385.3 1327.0 384.8 1328.0 384.4 1329.0 383.9 1330.0 383.5 1331.0 383.2 1332.0 382.9 1333.0 382.7 1334.0 382.5 1335.0 382.5 1336.0 382.8 1337.0 383.7 1338.0 384.9 1339.0 386.4 1340.0 387.8 1341.0 389.0 1342.0 389.8 1342.5 390.0 1343.0 390.1 1344.0 390.4 1345.0 390.6 1346.0 390.8 1347.0 391.0 1348.0 391.2 1349.0 391.3 1350.0 391.4 1351.0 391.5 1352.0 391.5 1352.5 391.5 1353.0 391.5 1354.0 391.2 1355.0 390.8 1356.0 390.3 1357.0 389.7 1358.0 389.2 1358.8 388.8 1360.0 388.0 1361.0 387.2 1362.0 386.5 1363.0 385.8 1364.0 385.3 1365.0 385.0 1366.0 384.9 1367.0 384.8 1368.0 384.7 1369.0 384.7 1370.0 384.6 1371.0 384.6 1372.0 384.5 1372.5 384.4 1373.0 384.3 1374.0 383.8 1375.0 383.2 1376.0 382.4 1377.0 381.8 1378.0 381.4 1378.8 381.2 1380.0 381.4 1381.0 381.8 1382.0 382.4 1383.0 383.0 1384.0 383.6 1385.0 384.3 1386.2 385.0 1387.0 385.4 1388.0 385.9 1389.0 386.4 1390.0 387.0 1391.0 387.5 1392.0 388.0 1393.0 388.5 1394.0 389.0 1395.0 389.4 1396.0 389.8 1397.0 390.2 1398.0 390.7 1399.0 391.1 1400.0 391.5 1401.0 391.8 1402.0 392.1 1403.0 392.2 1403.8 392.2 1405.0 392.2 1406.0 392.1 1407.0 391.9 1408.0 391.6 1409.0 391.3 1410.0 391.0 1411.2 390.6 1412.0 390.2 1413.0 389.3 1414.0 388.2 1415.0 387.1 1416.0 386.2 1417.0 385.7 1417.5 385.6 1418.0 385.6 1419.0 385.6 1420.0 385.7 1421.0 385.8 1422.0 385.9 1423.0 385.9 1424.0 386.0 1425.0 386.0 1426.0 385.9 1427.0 385.7 1428.0 385.4 1429.0 385.1 1430.0 384.8 1431.0 384.6 1432.0 384.4 1432.5 384.4 1433.0 384.4 1434.0 384.6 1435.0 384.8 1436.0 385.2 1437.0 385.6" stroke="#ff7b0b" stroke-width="4" fill="none" stroke-linejoin="round" shape-rendering="crispEdges"/><rect x="168.5" y="551.5" width="814" height="104" fill="#fff" stroke="#000" stroke-width="1.2"/><path d="M199 577H342" stroke="#ff7b0b" stroke-width="4"/><path d="M199 629H342" stroke="#c7c7c7" stroke-width="2"/><rect x="270" y="577" width="1" height="1" fill="#000"/><rect x="270" y="629" width="1" height="1" fill="#000"/><text x="676.9" y="588.75" font-size="30.1" text-anchor="middle">residuals (LI, cWB): SNR=2.92</text><text x="676.9" y="640.75" font-size="30.1" text-anchor="middle">residuals (data, cWB) [16:512 Hz]: RMS=0.94</text><text x="479" y="70.2" font-size="53.2" font-style="italic" stroke="#000" stroke-width="0.5" textLength="629" lengthAdjust="spacingAndGlyphs">GW191215_223052 - Hanford</text><text x="138.5" y="126.3" font-size="46.5" text-anchor="end">4</text><text x="138.5" y="265.8" font-size="46.5" text-anchor="end">2</text><text x="138.5" y="404.8" font-size="46.5" text-anchor="end">0</text><text x="138.5" y="543.8" font-size="46.5" text-anchor="end">2</text><rect x="90.2" y="530.8" width="23.8" height="2.2" fill="#000"/><text x="138.5" y="683.3" font-size="46.5" text-anchor="end">4</text><rect x="90.2" y="670.3" width="23.8" height="2.2" fill="#000"/><text x="159.3" y="717.5" font-size="46.5" text-anchor="middle">0.1</text><text x="372.5" y="717.5" font-size="46.5" text-anchor="middle">0.15</text><text x="585" y="717.5" font-size="46.5" text-anchor="middle">0.2</text><text x="799" y="717.5" font-size="46.5" text-anchor="middle">0.25</text><text x="1012" y="717.5" font-size="46.5" text-anchor="middle">0.3</text><text x="1225" y="717.5" font-size="46.5" text-anchor="middle">0.35</text><text x="1438" y="717.5" font-size="46.5" text-anchor="middle">0.4</text><text x="795.4" y="776" font-size="45.4" text-anchor="middle">Time-1260484270 (s)</text><path d="M65.7 420.3A11.65 11.3 0 1 1 42.4 420.3A11.65 11.3 0 1 1 65.7 420.3ZM63.7 420.6A8.65 6.4 0 1 0 46.4 420.6A8.65 6.4 0 1 0 63.7 420.6Z" fill="#000" fill-rule="evenodd"/><path d="M42.4 406.2H46.4V418L45 421H42.4Z" fill="#000"/><text transform="translate(78.0,405.3) rotate(-90)" font-size="30.6">noise</text></svg></body></html>
